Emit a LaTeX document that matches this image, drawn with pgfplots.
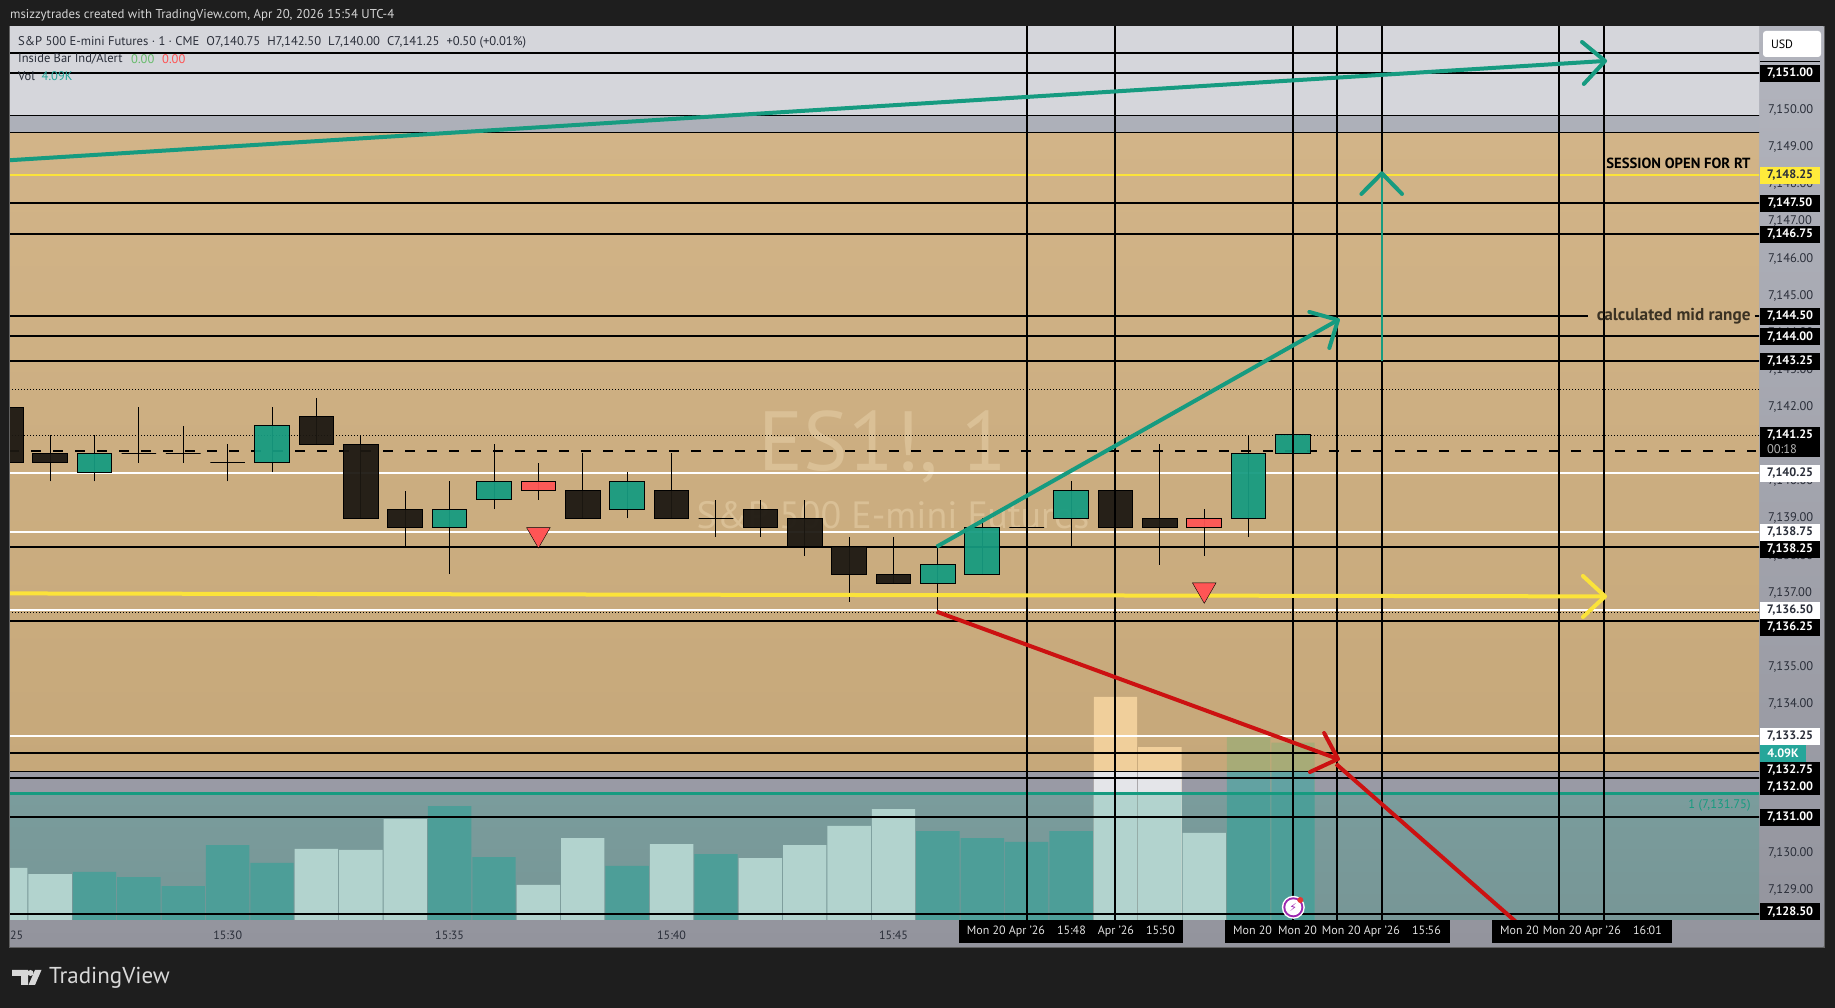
\documentclass[border=0pt]{standalone}
\usepackage{fontspec}
\setmainfont{PT Sans}
\newfontfamily\symb{DejaVu Sans}
\usepackage{pgfplots}
\pgfplotsset{compat=1.18}

\newcommand{\hexc}[1]{\definecolor{#1}{HTML}{#1}}
\hexc{F0CF9B}\hexc{A7AB77}\hexc{E4E5E9}\hexc{62A2A2}\hexc{B2D3CE}\hexc{4D9E98}
\hexc{DAC096}\hexc{D5D5D5}\hexc{66BB6A}\hexc{FF5252}\hexc{26A69A}\hexc{3B3223}
\hexc{FFEB3B}\hexc{9C27B0}\hexc{E53935}\hexc{D8D8D8}
\definecolor{frame}{HTML}{1E1E1E}
\definecolor{tealdraw}{HTML}{169B80}
\definecolor{reddraw}{HTML}{CC1111}
\definecolor{yel}{HTML}{FBE33A}
\definecolor{cup}{HTML}{169B80}
\definecolor{cdn}{HTML}{1C1812}
\definecolor{cred}{HTML}{FF5555}
\definecolor{scaletxt}{HTML}{2A2E39}
\definecolor{scaletop}{HTML}{B2B4BD}
\definecolor{scalebot}{HTML}{93949D}
\definecolor{ztop}{HTML}{D5D6DB}
\definecolor{zband}{HTML}{ADB0B9}
\definecolor{ztana}{HTML}{D2B488}
\definecolor{ztanb}{HTML}{C6A87A}
\definecolor{zgrey}{HTML}{999AA5}
\definecolor{ztela}{HTML}{7A9C9C}
\definecolor{ztelb}{HTML}{779696}

% same geometry for the three stacked axes, 1pt = 1px of the reference
\pgfplotsset{chart/.style={
    at={(10pt,88pt)}, anchor=south west, scale only axis,
    width=1749pt, height=893pt,
    xmin=0.097, xmax=39.497,
    axis line style={draw=none}, tick style={draw=none},
    major tick length=0pt,
}}
\pgfplotsset{pricey/.style={ymin=7128.185, ymax=7152.235}}
\pgfplotsset{lvl/.style={black, line width=1.9pt}, thinlvl/.style={black, line width=1pt},
  wl/.style={white, line width=1.9pt}, dot/.style={black, line width=0.9pt, dash pattern=on 1pt off 2pt},
  barb/.style={line width=4pt, line cap=round, line join=round},
  shaft/.style={line width=4pt}}

% one price level across the chart
\newcommand{\hl}[2]{\addplot[#2] coordinates {(-1,#1) (41,#1)};}
\newcommand{\vl}[1]{\addplot[black, line width=2pt] coordinates {(#1,7120) (#1,7160)};}
% minute, low, body bottom, body top, high, colour
\newcommand{\candle}[6]{%
  \pgfmathsetmacro\xa{#1-0.39}\pgfmathsetmacro\xb{#1+0.39}%
  \addplot[black, line width=1pt] coordinates {(#1,#2) (#1,#5)};
  \addplot[draw=black, line width=1pt, fill=#6, fill opacity=0.94] coordinates {(\xa,#3) (\xb,#3) (\xb,#4) (\xa,#4)} --cycle;
}
% price-scale tag
\newcommand{\ptag}[4]{\node[fill=#3, text=#4, font=\fontsize{12.2}{13}\selectfont\bfseries,
    minimum width=60pt, minimum height=17pt, inner sep=0pt] at (1790,#1) {#2};}
% time-scale tags, right edge or left edge given
\newcommand{\tlab}[2]{\node[fill=black, text=white!88!black, anchor=east, font=\fontsize{12}{13}\selectfont,
    minimum height=23pt, inner xsep=5pt, inner ysep=0pt] at (#1,931.5) {#2};}
\newcommand{\tlabw}[2]{\node[fill=black, text=white!88!black, anchor=west, font=\fontsize{12}{13}\selectfont,
    minimum height=23pt, inner xsep=5pt, inner ysep=0pt] at (#1,931.5) {#2};}

\begin{document}
\begin{tikzpicture}[x=1pt,y=1pt]
\useasboundingbox (0,0) rectangle (1835,1008);
\fill[frame] (0,0) rectangle (1835,1008);
\fill[white!30!frame] (9,60) rectangle (1825,982);
\shade[top color=scaletop, bottom color=scalebot] (10,61) rectangle (1823.5,981);

% zones
\begin{axis}[chart, pricey, xtick=\empty, ytick=\empty]
\addplot[draw=none, fill=ztop] coordinates {(-1,7153) (41,7153) (41,7149.857) (-1,7149.857)} --cycle;
\addplot[draw=none, fill=zband] coordinates {(-1,7149.857) (41,7149.857) (41,7149.40) (-1,7149.40)} --cycle;
\addplot[draw=none, top color=ztana, bottom color=ztanb] coordinates {(-1,7149.40) (41,7149.40) (41,7132.19) (-1,7132.19)} --cycle;
\addplot[draw=none, fill=zgrey] coordinates {(-1,7132.19) (41,7132.19) (41,7131.6) (-1,7131.6)} --cycle;
\addplot[draw=none, top color=ztela, bottom color=ztelb] coordinates {(-1,7131.6) (41,7131.6) (41,7128) (-1,7128)} --cycle;
\end{axis}

% watermark
\begin{scope}[shift={(0,1008)}, y=-1pt]
\node[text=DAC096, font=\fontsize{84}{84}\selectfont] at (883,447) {ES1!, 1};
\node[text=DAC096, font=\fontsize{38}{38}\selectfont] at (893,515) {S\&P 500 E-mini Futures};
\end{scope}

% volume
\begin{axis}[chart, ymin=0, ymax=20.606, xtick=\empty, ytick=\empty]
\addplot[ybar, bar width=43.4pt, bar shift=0pt, draw=none, fill=F0CF9B] coordinates {(25,5.15) (26,3.99)};
\addplot[ybar, bar width=43.4pt, bar shift=0pt, draw=none, fill=A7AB77] coordinates {(28,4.22) (29,4.09)};
\addplot[ybar, bar width=43.4pt, bar shift=0pt, draw=none, fill=E4E5E9] coordinates {(25,3.44) (26,3.44)};
\addplot[ybar, bar width=43.4pt, bar shift=0pt, draw=none, fill=62A2A2] coordinates {(28,3.44) (29,3.44)};
% light = down bars, teal = up bars
\addplot[ybar, bar width=43.4pt, bar shift=0pt, draw=none, fill=B2D3CE] coordinates {
  (0,1.20) (1,1.06) (7,1.64) (8,1.62) (9,2.33) (12,0.81) (13,1.89) (15,1.75)
  (17,1.43) (18,1.73) (19,2.17) (20,2.56) (25,2.93) (26,2.93) (27,2.01)};
\addplot[ybar, bar width=43.4pt, bar shift=0pt, draw=none, fill=4D9E98] coordinates {
  (2,1.11) (3,0.99) (4,0.78) (5,1.73) (6,1.32) (10,2.63) (11,1.45) (14,1.25)
  (16,1.52) (21,2.05) (22,1.89) (23,1.80) (24,2.05) (28,2.93) (29,2.93)};
\end{axis}

% price pane
\begin{axis}[chart, pricey, clip mode=individual,
    ytick={7129,7130,...,7150}, yticklabel pos=right,
    yticklabel style={anchor=west, inner sep=0pt, xshift=9pt, text=scaletxt,
      font=\fontsize{12.5}{13}\selectfont,
      /pgf/number format/.cd, fixed, fixed zerofill, precision=2, 1000 sep={,}, assume math mode=true},
    xtick={5,10,15,20}, xticklabels={15:30,15:35,15:40,15:45},
    xticklabel style={anchor=center, inner sep=0pt, yshift=-15pt, text=scaletxt,
      font=\fontsize{12}{13}\selectfont},
]
% levels
\hl{7151.527}{lvl}
\hl{7151.005}{lvl}
\hl{7149.857}{thinlvl}
\hl{7149.40}{thinlvl}
\hl{7148.257}{yel, line width=1.8pt}
\hl{7147.503}{lvl}
\hl{7146.67}{lvl}
\addplot[lvl, unbounded coords=jump] coordinates {(-1,7144.46) (35.64,7144.46) (nan,nan) (39.4,7144.46) (41,7144.46)};
\hl{7143.91}{lvl}
\hl{7143.24}{lvl}
\hl{7142.477}{dot}
\hl{7141.24}{dot}
\hl{7140.232}{wl}
\hl{7138.635}{wl}
\hl{7138.23}{lvl}
\hl{7136.533}{wl}
\hl{7136.47}{dot}
\hl{7136.24}{lvl}
\hl{7133.14}{wl}
\hl{7132.69}{lvl}
\hl{7132.19}{thinlvl}
\hl{7132.01}{lvl}
\hl{7131.6}{tealdraw, line width=3pt}
\hl{7130.97}{lvl}
\hl{7128.35}{lvl}
\addplot[black, line width=1.9pt, dash pattern=on 10pt off 12pt] coordinates {(0.075,7140.816) (39.44,7140.816)};

% candles
\candle{0}{7140.5}{7140.5}{7142.0}{7142.0}{cdn}
\candle{1}{7140.0}{7140.5}{7140.75}{7141.25}{cdn}
\candle{2}{7140.0}{7140.25}{7140.75}{7141.25}{cup}
\candle{3}{7140.5}{7140.75}{7140.75}{7142.0}{cup}
\candle{4}{7140.5}{7140.75}{7140.75}{7141.5}{cup}
\candle{5}{7140.0}{7140.5}{7140.5}{7141.0}{cup}
\candle{6}{7140.25}{7140.5}{7141.5}{7142.0}{cup}
\candle{7}{7141.0}{7141.0}{7141.75}{7142.25}{cdn}
\candle{8}{7139.0}{7139.0}{7141.0}{7141.25}{cdn}
\candle{9}{7138.25}{7138.75}{7139.25}{7139.75}{cdn}
\candle{10}{7137.5}{7138.75}{7139.25}{7140.0}{cup}
\candle{11}{7139.25}{7139.5}{7140.0}{7141.0}{cup}
\candle{12}{7139.5}{7139.75}{7140.0}{7140.5}{cred}
\candle{13}{7139.0}{7139.0}{7139.75}{7140.75}{cdn}
\candle{14}{7139.0}{7139.25}{7140.0}{7140.25}{cup}
\candle{15}{7139.0}{7139.0}{7139.75}{7140.75}{cdn}
\candle{16}{7138.5}{7139.0}{7139.0}{7139.5}{cup}
\candle{17}{7138.5}{7138.75}{7139.25}{7139.5}{cdn}
\candle{18}{7138.0}{7138.25}{7139.0}{7139.5}{cdn}
\candle{19}{7136.75}{7137.5}{7138.25}{7138.5}{cdn}
\candle{20}{7137.25}{7137.25}{7137.5}{7138.5}{cdn}
\candle{21}{7136.5}{7137.25}{7137.75}{7138.25}{cup}
\candle{22}{7137.5}{7137.5}{7138.75}{7139.0}{cup}
\candle{23}{7138.75}{7138.75}{7138.75}{7138.75}{cup}
\candle{24}{7138.25}{7139.0}{7139.75}{7140.0}{cup}
\candle{25}{7138.75}{7138.75}{7139.75}{7139.75}{cdn}
\candle{26}{7137.75}{7138.75}{7139.0}{7141.0}{cdn}
\candle{27}{7138.0}{7138.75}{7139.0}{7139.25}{cred}
\candle{28}{7138.5}{7139.0}{7140.75}{7141.25}{cup}
\candle{29}{7140.75}{7140.75}{7141.25}{7141.25}{cup}

% time lines
\vl{23}\vl{25}\vl{29}\vl{30}\vl{31}\vl{35}\vl{36}

% drawn arrows
\addplot[tealdraw, shaft] coordinates {(0.0,7148.64) (36.03,7151.32)};
\addplot[tealdraw, barb] coordinates {(35.51,7151.83) (36.03,7151.32) (35.55,7150.70)};
\addplot[tealdraw, shaft] coordinates {(20.973,7138.239) (30.013,7144.344)};
\addplot[tealdraw, barb] coordinates {(29.367,7144.56) (30.013,7144.344) (29.817,7143.59)};
\addplot[tealdraw, line width=2.6pt] coordinates {(31.0,7143.248) (31.0,7148.295)};
\addplot[tealdraw, barb] coordinates {(30.54,7147.738) (31.0,7148.295) (31.455,7147.738)};
\addplot[reddraw, shaft] coordinates {(20.973,7136.488) (30.013,7132.521)};
\addplot[reddraw, barb] coordinates {(29.70,7133.22) (30.013,7132.521) (29.38,7132.17)};
\addplot[reddraw, shaft] coordinates {(29.97,7132.386) (34.2,7127.95)};
\addplot[yel, shaft] coordinates {(0.0,7136.98) (36.03,7136.90)};
\addplot[yel, barb] coordinates {(35.53,7137.45) (36.03,7136.90) (35.53,7136.345)};

% alert markers
\addplot[only marks, mark=triangle*, mark size=13.6pt,
    mark options={rotate=180, fill=cred, draw=none}] coordinates {(12,7138.567) (27,7137.08)};
\end{axis}

\begin{scope}[shift={(0,1008)}, y=-1pt]
% header
\node[anchor=west, inner sep=0pt, text=D5D5D5, font=\fontsize{12.8}{14}\selectfont] at (10,15)
  {msizzytrades created with TradingView.com, Apr 20, 2026 15:54 UTC-4};
\node[anchor=west, inner sep=0pt, text=scaletxt, font=\fontsize{12.6}{14}\selectfont] at (18,42)
  {S\&P 500 E-mini Futures · 1 · CME\hspace{7pt}O7,140.75\hspace{7pt}H7,142.50\hspace{7pt}L7,140.00\hspace{7pt}C7,141.25\hspace{7pt}+0.50 (+0.01\%)};
\node[anchor=west, inner sep=0pt, text=scaletxt, font=\fontsize{12.5}{14}\selectfont] at (18,59) {Inside Bar Ind/Alert};
\node[anchor=west, inner sep=0pt, text=66BB6A, font=\fontsize{12.5}{14}\selectfont] at (131,59) {0.00};
\node[anchor=west, inner sep=0pt, text=FF5252, font=\fontsize{12.5}{14}\selectfont] at (162,59) {0.00};
\node[anchor=west, inner sep=0pt, text=scaletxt, font=\fontsize{12.5}{14}\selectfont] at (18,76) {Vol};
\node[anchor=west, inner sep=0pt, text=26A69A, font=\fontsize{12.5}{14}\selectfont] at (41.5,76) {4.09K};

% chart texts
\node[anchor=east, inner sep=0pt, text=black, font=\fontsize{14.7}{15}\selectfont\bfseries] at (1750.7,163) {SESSION OPEN FOR RT};
\node[anchor=east, inner sep=0pt, text=3B3223, font=\fontsize{17.2}{18}\selectfont\bfseries] at (1750.7,316.7) {calculated mid range};
\node[anchor=east, inner sep=0pt, text=tealdraw, font=\fontsize{12.5}{14}\selectfont] at (1750.7,805) {1 (7,131.75)};

% USD button and price tags
\fill[black] (1760,61) rectangle (1820,62.5);
\fill[white, rounded corners=3pt] (1763,31) rectangle (1821,57);
\node[text=black, font=\fontsize{12}{13}\selectfont, inner sep=0pt] at (1782,44.5) {USD};
\ptag{73.5}{7,151.00}{black}{white}
\ptag{175.5}{7,148.25}{FFEB3B}{scaletxt}
\ptag{203.5}{7,147.50}{black}{white}
\ptag{234.5}{7,146.75}{black}{white}
\ptag{316.5}{7,144.50}{black}{white}
\ptag{337}{7,144.00}{black}{white}
\ptag{361.5}{7,143.25}{black}{white}
\fill[black] (1760,427) rectangle (1820,457);
\node[text=white, inner sep=0pt, font=\fontsize{12.2}{13}\selectfont\bfseries] at (1790,435) {7,141.25};
\node[text=white!70!black, inner sep=0pt, font=\fontsize{12.5}{13}\selectfont] at (1782,449) {00:18};
\ptag{473.5}{7,140.25}{white}{scaletxt}
\ptag{532.5}{7,138.75}{white}{scaletxt}
\ptag{549.5}{7,138.25}{black}{white}
\ptag{610.5}{7,136.50}{white}{scaletxt}
\ptag{627.5}{7,136.25}{black}{white}
\ptag{736.5}{7,133.25}{white}{scaletxt}
\fill[26A69A] (1760,745) rectangle (1806,762);
\node[text=white, inner sep=0pt, font=\fontsize{12.2}{13}\selectfont\bfseries] at (1783,753.5) {4.09K};
\ptag{770.5}{7,132.75}{black}{white}
\ptag{787}{7,132.00}{black}{white}
\ptag{817.5}{7,131.00}{black}{white}
\ptag{912}{7,128.50}{black}{white}

% time tags, later ones cover earlier ones
\node[anchor=west, inner sep=0pt, text=scaletxt, font=\fontsize{12}{13}\selectfont] at (10,935) {25};
\fill[black] (959,920) rectangle (1183,943);
\fill[black] (1225,920) rectangle (1450,943);
\fill[black] (1492,920) rectangle (1672,943);
\tlab{1180}{Mon 20 Apr '26\hspace{12pt}15:50}
\tlab{1091}{Mon 20 Apr '26\hspace{12pt}15:48}
\fill[black] (1091,920) rectangle (1096.5,943);
\tlabw{1228}{Mon 20 Apr '26}
\tlabw{1273}{Mon 20 Apr '26}
\tlab{1446}{Mon 20 Apr '26\hspace{12pt}15:56}
\tlabw{1495}{Mon 20 Apr '26}
\tlab{1667}{Mon 20 Apr '26\hspace{12pt}16:01}

% alert icon
\fill[white] (1293.3,907.3) circle (11.5);
\fill[9C27B0] (1293.3,907.3) circle (10);
\fill[white] (1293.3,907.3) circle (8);
\node[text=9C27B0, inner sep=0pt, font=\symb\fontsize{11}{11}\selectfont] at (1293.3,907.3) {⚡};
\fill[E53935] (1300.3,900) circle (3);

% logo
\fill[D8D8D8] (12,970) -- (28,970) -- (28,985) -- (21,985) -- (21,976) -- (12,976) -- cycle;
\fill[D8D8D8] (30.5,973) circle (3);
\fill[D8D8D8] (35,970) -- (41.5,970) -- (35,985) -- (28.5,985) -- cycle;
\node[anchor=west, inner sep=0pt, text=D8D8D8, font=\fontsize{23}{24}\selectfont] at (49,978) {TradingView};
\end{scope}
\end{tikzpicture}
\end{document}
